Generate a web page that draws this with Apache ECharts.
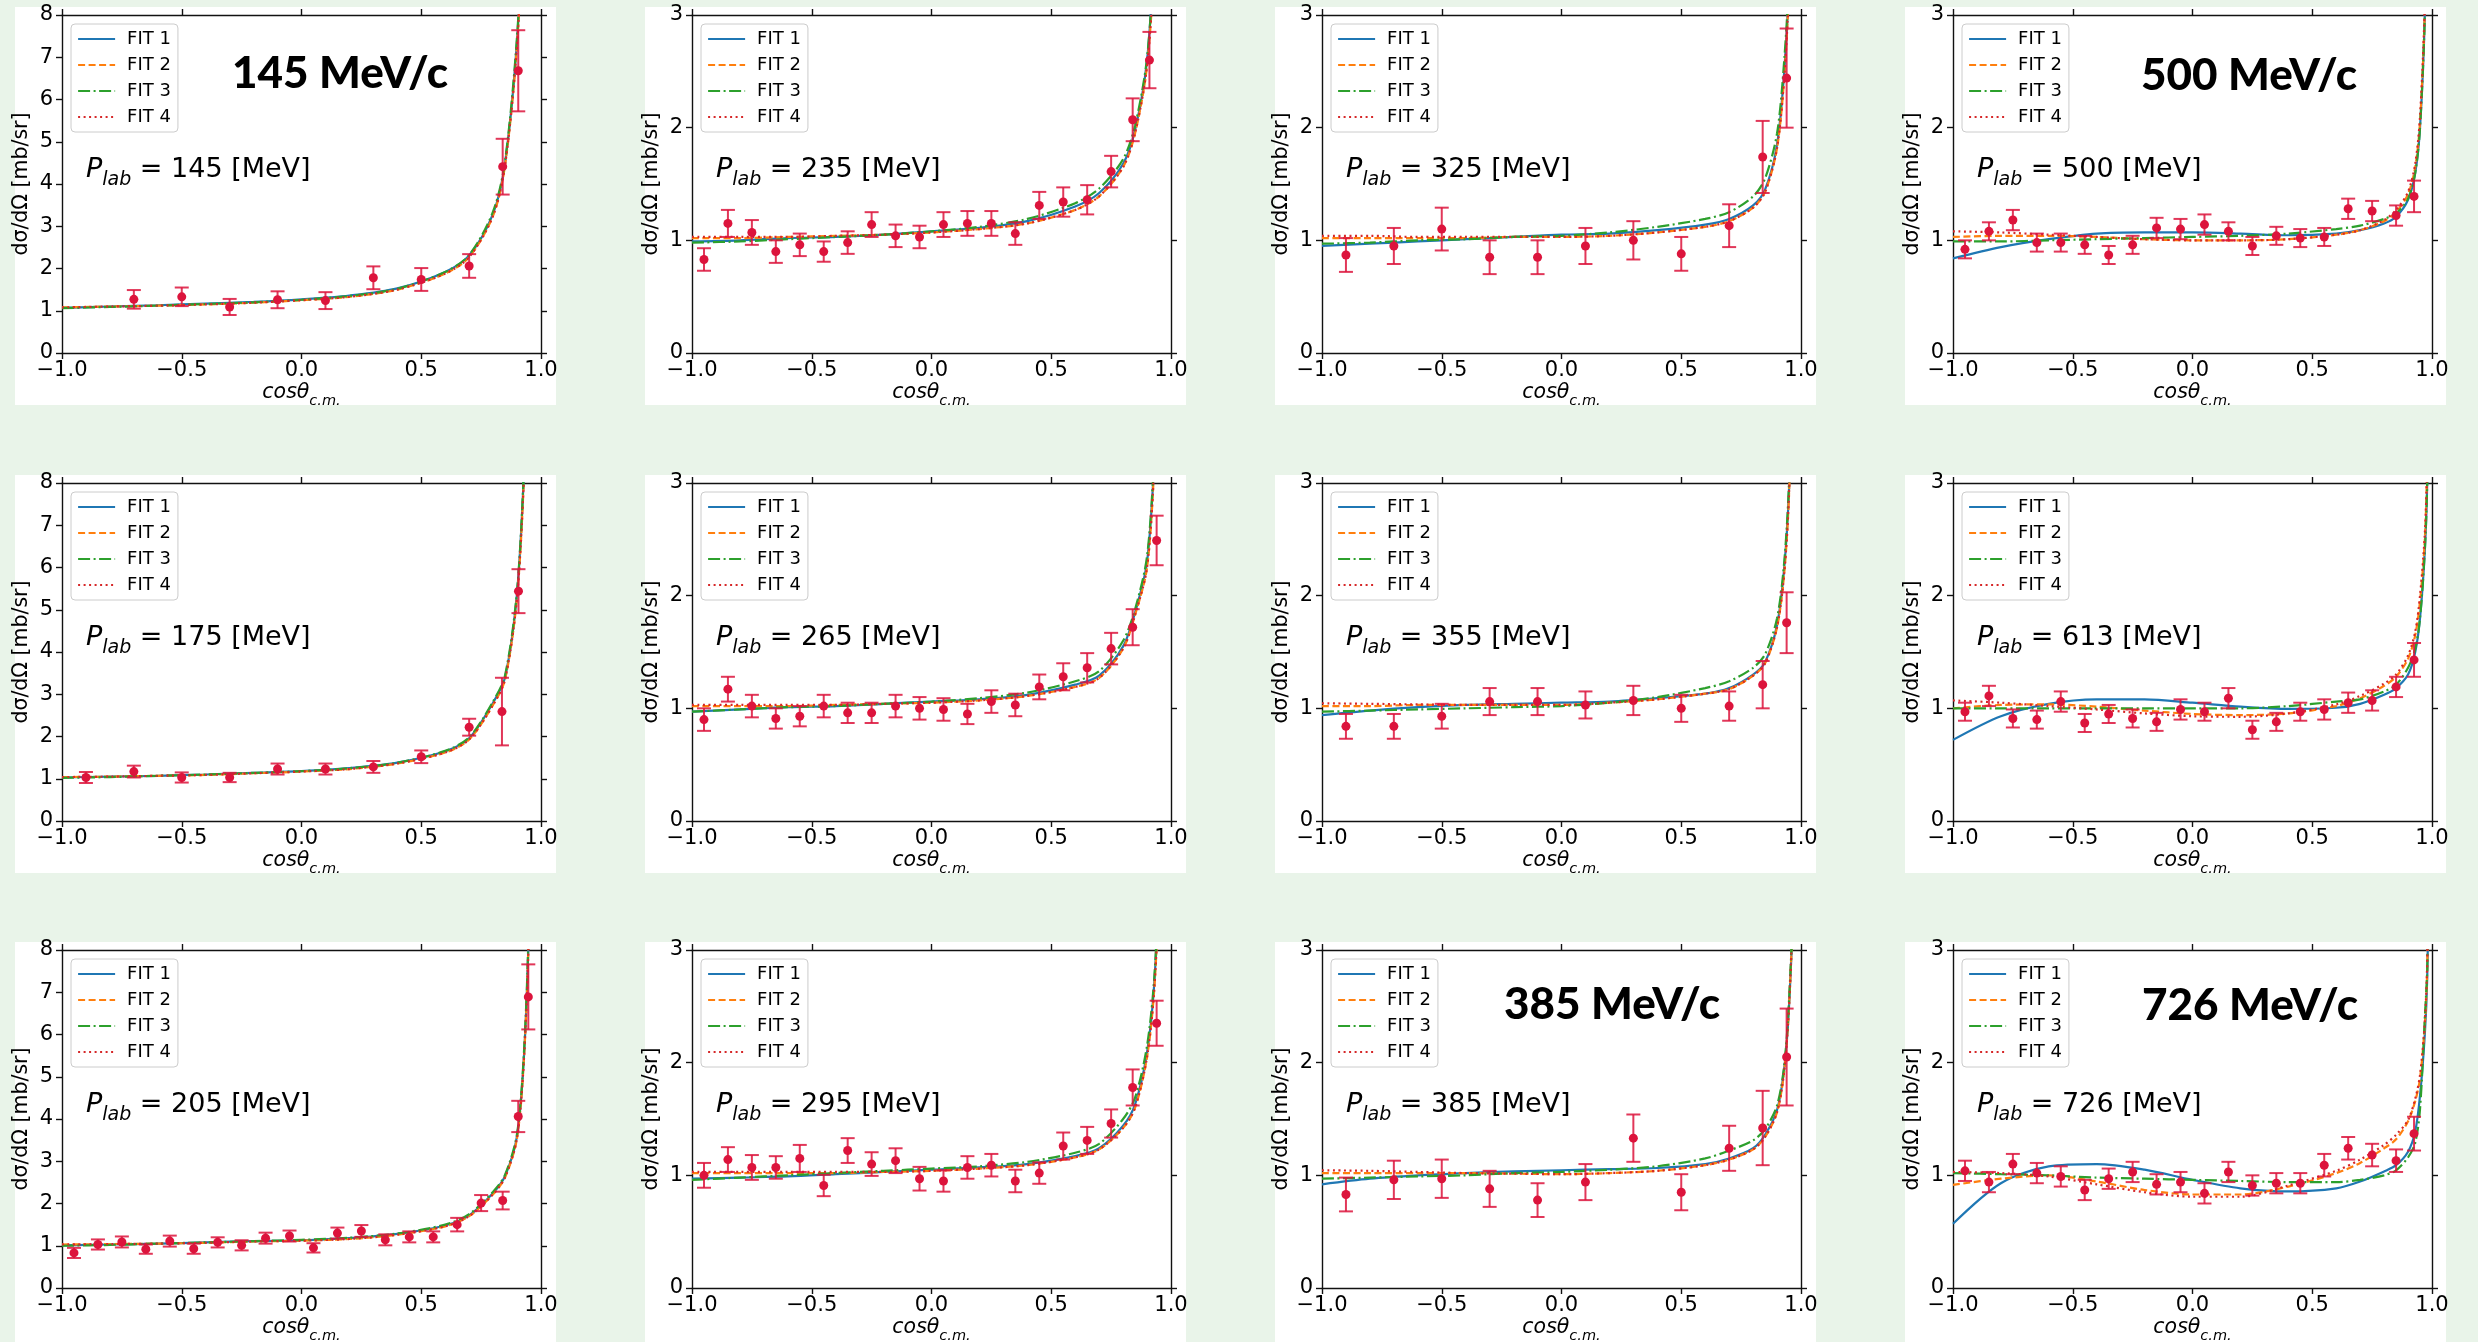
<!DOCTYPE html>
<html><head><meta charset="utf-8">
<script src="https://cdn.jsdelivr.net/npm/echarts/dist/echarts.min.js"></script>
<style>html,body{margin:0;padding:0;background:#e9f4e9;}#c{width:2478px;height:1342px;}</style>
</head><body><div id="c"></div>
<script>
// ---------- DATA ----------
const FIT_X = [-1,-0.8,-0.6,-0.4,-0.2,0,0.2,0.4,0.6,0.7,0.8,0.85,0.9,0.93,0.95,0.97,0.98,0.99];
const X20A = [-0.95,-0.85,-0.75,-0.65,-0.55,-0.45,-0.35,-0.25,-0.15,-0.05,0.05,0.15,0.25,0.35,0.45,0.55,0.65,0.75,0.84,0.91];
const X20B = [-0.95,-0.85,-0.75,-0.65,-0.55,-0.45,-0.35,-0.25,-0.15,-0.05,0.05,0.15,0.25,0.35,0.45,0.55,0.65,0.75,0.84,0.94];
const X20C = [-0.95,-0.85,-0.75,-0.65,-0.55,-0.45,-0.35,-0.25,-0.15,-0.05,0.05,0.15,0.25,0.35,0.45,0.55,0.65,0.75,0.85,0.925];
const X11 = [-0.9,-0.7,-0.5,-0.3,-0.1,0.1,0.3,0.5,0.7,0.84,0.94];

// 145 MeV/c
const P145_X = [-0.7,-0.5,-0.3,-0.1,0.1,0.3,0.5,0.7,0.84,0.905];
const P145_Y = [1.27,1.33,1.09,1.26,1.24,1.78,1.74,2.06,4.41,6.68];
const P145_E = [0.22,0.22,0.19,0.20,0.20,0.27,0.27,0.28,0.66,0.96];
const P145_F1 = [1.07,1.10,1.13,1.17,1.21,1.27,1.36,1.53,1.92,2.31,3.30,4.50,7.40,11,15,24,34,50];
const P145_F2 = [1.08,1.10,1.12,1.15,1.19,1.25,1.33,1.50,1.88,2.27,3.25,4.45,7.30,11,15,24,34,50];
const P145_F3 = [1.06,1.09,1.12,1.16,1.20,1.26,1.35,1.52,1.92,2.32,3.35,4.55,7.50,11,15,24,34,50];
const P145_F4 = [1.08,1.10,1.12,1.15,1.19,1.25,1.33,1.50,1.88,2.27,3.25,4.45,7.30,11,15,24,34,50];
// 175
const P175_X = [-0.9,-0.7,-0.5,-0.3,-0.1,0.1,0.3,0.5,0.7,0.837,0.906];
const P175_Y = [1.03,1.17,1.03,1.03,1.23,1.23,1.28,1.52,2.22,2.59,5.44];
const P175_E = [0.13,0.14,0.12,0.11,0.13,0.13,0.14,0.15,0.20,0.80,0.52];
const P175_F1 = [1.03,1.05,1.07,1.10,1.14,1.18,1.25,1.38,1.65,1.96,2.80,3.40,5.40,8.40,12,20,28,45];
const P175_F2 = [1.04,1.05,1.07,1.09,1.13,1.17,1.23,1.36,1.62,1.93,2.75,3.35,5.30,8.30,12,20,28,45];
const P175_F3 = [1.02,1.04,1.07,1.10,1.14,1.18,1.25,1.38,1.66,1.98,2.83,3.45,5.45,8.50,12,20,28,45];
const P175_F4 = [1.04,1.05,1.07,1.09,1.13,1.17,1.23,1.36,1.62,1.93,2.75,3.35,5.30,8.30,12,20,28,45];
// 205
const P205_X = [-0.95,-0.85,-0.75,-0.65,-0.55,-0.45,-0.35,-0.25,-0.15,-0.05,0.05,0.15,0.25,0.35,0.45,0.55,0.65,0.75,0.84,0.905,0.947];
const P205_Y = [0.83,1.03,1.09,0.92,1.11,0.93,1.08,1.01,1.18,1.23,0.95,1.30,1.35,1.14,1.21,1.21,1.50,2.01,2.07,4.06,6.89];
const P205_E = [0.12,0.12,0.13,0.11,0.13,0.12,0.12,0.12,0.13,0.13,0.11,0.13,0.14,0.13,0.13,0.13,0.16,0.19,0.21,0.37,0.77];
const P205_F1 = [1.01,1.03,1.05,1.08,1.11,1.13,1.18,1.28,1.48,1.72,2.25,2.65,3.60,5.60,8.70,15,22,35];
const P205_F2 = [1.03,1.04,1.05,1.07,1.10,1.12,1.16,1.26,1.46,1.70,2.22,2.62,3.55,5.55,8.60,15,22,35];
const P205_F3 = [1.00,1.02,1.05,1.08,1.11,1.14,1.19,1.29,1.50,1.75,2.28,2.68,3.65,5.70,8.80,15,22,35];
const P205_F4 = [1.03,1.04,1.05,1.07,1.10,1.12,1.16,1.26,1.46,1.70,2.22,2.62,3.55,5.55,8.60,15,22,35];
// 235
const P235_Y = [0.83,1.15,1.07,0.90,0.96,0.90,0.98,1.14,1.04,1.03,1.14,1.15,1.15,1.06,1.31,1.34,1.36,1.61,2.07,2.60];
const P235_E = [0.10,0.12,0.11,0.10,0.10,0.09,0.10,0.11,0.10,0.10,0.11,0.11,0.11,0.10,0.12,0.13,0.13,0.14,0.19,0.25];
const P235_F1 = [0.99,1.00,1.02,1.03,1.05,1.08,1.11,1.17,1.30,1.42,1.68,1.98,2.60,3.60,5.0,8.0,11,18];
const P235_F2 = [1.02,1.02,1.03,1.04,1.05,1.07,1.10,1.15,1.27,1.39,1.65,1.95,2.55,3.50,5.0,8.0,11,18];
const P235_F3 = [0.98,0.99,1.01,1.03,1.05,1.08,1.12,1.19,1.33,1.46,1.72,2.02,2.62,3.60,5.0,8.0,11,18];
const P235_F4 = [1.03,1.03,1.03,1.04,1.05,1.07,1.10,1.15,1.27,1.39,1.65,1.95,2.55,3.50,5.0,8.0,11,18];
// 265
const P265_Y = [0.90,1.17,1.02,0.91,0.93,1.02,0.96,0.96,1.02,1.00,0.99,0.95,1.06,1.03,1.19,1.28,1.36,1.53,1.72,2.49];
const P265_E = [0.10,0.11,0.10,0.09,0.09,0.10,0.09,0.09,0.10,0.10,0.10,0.09,0.10,0.10,0.11,0.12,0.13,0.14,0.16,0.22];
const P265_F1 = [0.97,0.99,1.01,1.02,1.04,1.06,1.08,1.12,1.21,1.29,1.55,1.85,2.30,3.20,4.4,7,10,16];
const P265_F2 = [1.02,1.02,1.02,1.03,1.04,1.05,1.07,1.11,1.19,1.27,1.53,1.83,2.25,3.15,4.3,7,10,16];
const P265_F3 = [0.97,0.99,1.01,1.02,1.04,1.06,1.09,1.14,1.24,1.33,1.60,1.88,2.35,3.25,4.4,7,10,16];
const P265_F4 = [1.03,1.03,1.03,1.03,1.04,1.05,1.07,1.11,1.19,1.27,1.53,1.83,2.25,3.15,4.3,7,10,16];
// 295
const P295_Y = [1.00,1.14,1.07,1.07,1.15,0.91,1.22,1.10,1.13,0.97,0.95,1.07,1.09,0.95,1.02,1.26,1.31,1.46,1.78,2.35];
const P295_E = [0.11,0.11,0.11,0.10,0.12,0.095,0.11,0.105,0.11,0.105,0.095,0.10,0.10,0.10,0.095,0.12,0.12,0.125,0.16,0.20];
const P295_F1 = [0.97,0.98,0.99,1.01,1.03,1.05,1.07,1.10,1.17,1.24,1.44,1.63,2.09,2.70,3.70,6,9,15];
const P295_F2 = [1.02,1.02,1.02,1.02,1.03,1.04,1.06,1.09,1.16,1.23,1.42,1.60,2.05,2.65,3.60,6,9,15];
const P295_F3 = [0.96,0.98,1.00,1.02,1.04,1.06,1.08,1.12,1.20,1.28,1.50,1.69,2.15,2.75,3.70,6,9,15];
const P295_F4 = [1.03,1.03,1.03,1.03,1.03,1.04,1.06,1.09,1.16,1.23,1.42,1.60,2.05,2.65,3.60,6,9,15];
// 325
const P325_Y = [0.87,0.95,1.10,0.85,0.85,0.95,1.00,0.88,1.13,1.74,2.44];
const P325_E = [0.15,0.16,0.19,0.15,0.15,0.16,0.17,0.15,0.19,0.32,0.44];
const P325_F1 = [0.95,0.97,0.99,1.01,1.03,1.05,1.06,1.09,1.14,1.19,1.31,1.45,1.85,2.50,3.30,5,7,12];
const P325_F2 = [1.02,1.02,1.02,1.02,1.03,1.03,1.04,1.07,1.12,1.17,1.29,1.43,1.82,2.45,3.25,5,7,12];
const P325_F3 = [0.97,0.98,1.00,1.01,1.03,1.04,1.07,1.12,1.19,1.25,1.39,1.55,1.95,2.60,3.35,5,7,12];
const P325_F4 = [1.04,1.04,1.03,1.03,1.03,1.03,1.04,1.07,1.12,1.17,1.29,1.43,1.82,2.45,3.25,5,7,12];
// 355
const P355_Y = [0.84,0.84,0.93,1.06,1.06,1.03,1.07,1.00,1.02,1.21,1.76];
const P355_E = [0.11,0.11,0.11,0.12,0.12,0.12,0.13,0.12,0.13,0.21,0.27];
const P355_F1 = [0.94,0.98,1.01,1.03,1.04,1.05,1.06,1.09,1.13,1.18,1.30,1.41,1.74,2.25,2.95,4.5,6.5,10];
const P355_F2 = [1.02,1.02,1.03,1.03,1.03,1.03,1.05,1.08,1.13,1.17,1.29,1.40,1.72,2.20,2.90,4.5,6.5,10];
const P355_F3 = [0.97,0.98,0.99,1.00,1.01,1.02,1.05,1.10,1.18,1.24,1.36,1.48,1.80,2.30,3.00,4.5,6.5,10];
const P355_F4 = [1.045,1.04,1.035,1.03,1.03,1.03,1.05,1.08,1.13,1.17,1.29,1.40,1.72,2.20,2.90,4.5,6.5,10];
// 385
const P385_Y = [0.83,0.96,0.97,0.88,0.78,0.94,1.33,0.85,1.24,1.42,2.05];
const P385_E = [0.15,0.17,0.17,0.16,0.15,0.16,0.21,0.16,0.20,0.33,0.43];
const P385_F1 = [0.92,0.97,1.00,1.02,1.035,1.045,1.055,1.065,1.10,1.15,1.24,1.36,1.58,1.95,2.50,3.60,5,8];
const P385_F2 = [1.02,1.02,1.02,1.02,1.015,1.01,1.02,1.04,1.09,1.14,1.23,1.34,1.56,1.93,2.50,3.60,5,8];
const P385_F3 = [0.97,0.98,0.99,1.00,1.02,1.03,1.05,1.08,1.15,1.22,1.31,1.41,1.62,1.98,2.55,3.60,5,8];
const P385_F4 = [1.045,1.04,1.03,1.02,1.015,1.01,1.02,1.04,1.09,1.14,1.23,1.34,1.56,1.93,2.50,3.60,5,8];
// 500
const P500_Y = [0.92,1.08,1.18,0.98,0.98,0.96,0.87,0.96,1.11,1.10,1.14,1.08,0.95,1.04,1.02,1.03,1.28,1.26,1.22,1.39];
const P500_E = [0.08,0.08,0.09,0.08,0.08,0.08,0.08,0.08,0.09,0.09,0.09,0.08,0.08,0.08,0.08,0.08,0.09,0.09,0.09,0.14];
const P500_F1 = [0.84,0.94,1.01,1.06,1.07,1.07,1.06,1.045,1.06,1.09,1.15,1.21,1.36,1.60,2.00,3.00,4.5,8];
const P500_F2 = [1.03,1.04,1.04,1.03,1.01,1.00,1.00,1.01,1.05,1.09,1.17,1.25,1.41,1.65,2.05,3.05,4.5,8];
const P500_F3 = [0.99,0.99,1.00,1.01,1.02,1.03,1.04,1.06,1.10,1.13,1.19,1.24,1.37,1.60,2.00,3.00,4.5,8];
const P500_F4 = [1.08,1.07,1.05,1.03,1.01,1.00,1.00,1.01,1.05,1.09,1.18,1.27,1.43,1.68,2.10,3.10,4.6,8];
// 613
const P613_Y = [0.97,1.11,0.91,0.90,1.06,0.87,0.95,0.91,0.88,0.99,0.97,1.09,0.81,0.88,0.97,0.99,1.05,1.07,1.19,1.43];
const P613_E = [0.08,0.09,0.08,0.08,0.09,0.08,0.08,0.08,0.08,0.09,0.08,0.09,0.08,0.08,0.08,0.09,0.09,0.09,0.09,0.15];
const P613_F1 = [0.72,0.93,1.04,1.08,1.08,1.05,1.015,0.995,1.005,1.04,1.12,1.18,1.30,1.50,1.80,2.40,3.00,4.5];
const P613_F2 = [1.00,1.03,1.035,1.015,0.98,0.95,0.94,0.955,1.02,1.09,1.20,1.28,1.44,1.65,1.95,2.50,3.20,5];
const P613_F3 = [1.00,1.00,1.00,1.00,1.00,1.00,1.00,1.02,1.06,1.08,1.15,1.21,1.36,1.53,1.80,2.40,3.00,4.5];
const P613_F4 = [1.07,1.05,1.02,0.99,0.955,0.93,0.925,0.955,1.035,1.11,1.22,1.30,1.47,1.68,2.00,2.55,3.20,5];
// 726
const P726_Y = [1.04,0.94,1.10,1.02,0.99,0.87,0.97,1.03,0.92,0.94,0.84,1.03,0.91,0.93,0.93,1.09,1.24,1.18,1.13,1.37];
const P726_E = [0.09,0.09,0.09,0.09,0.09,0.09,0.09,0.09,0.09,0.09,0.09,0.09,0.09,0.09,0.09,0.10,0.10,0.10,0.10,0.15];
const P726_F1 = [0.57,0.93,1.08,1.10,1.05,0.96,0.885,0.857,0.885,0.945,1.035,1.09,1.21,1.39,1.71,2.25,2.75,4];
const P726_F2 = [0.915,0.97,1.00,0.945,0.87,0.83,0.83,0.90,1.02,1.11,1.24,1.32,1.48,1.66,1.86,2.34,2.83,4.5];
const P726_F3 = [1.02,1.01,1.00,0.98,0.97,0.96,0.95,0.94,0.94,0.96,1.00,1.045,1.16,1.29,1.59,2.40,2.83,4.5];
const P726_F4 = [1.03,1.02,0.99,0.92,0.85,0.81,0.81,0.91,1.04,1.14,1.27,1.36,1.49,1.68,1.89,2.36,2.90,4.5];

const FIT_NAMES = ['FIT 1','FIT 2','FIT 3','FIT 4'];
const Y_TICKS_8 = 8, Y_TICKS_3 = 3;

// panels in reading order (row by row)
const PANELS = [
  {p:'145', ymax:Y_TICKS_8, x:P145_X, y:P145_Y, e:P145_E, f:[P145_F1,P145_F2,P145_F3,P145_F4], big:'145 MeV/c'},
  {p:'235', ymax:Y_TICKS_3, x:X20A, y:P235_Y, e:P235_E, f:[P235_F1,P235_F2,P235_F3,P235_F4]},
  {p:'325', ymax:Y_TICKS_3, x:X11, y:P325_Y, e:P325_E, f:[P325_F1,P325_F2,P325_F3,P325_F4]},
  {p:'500', ymax:Y_TICKS_3, x:X20C, y:P500_Y, e:P500_E, f:[P500_F1,P500_F2,P500_F3,P500_F4], big:'500 MeV/c'},
  {p:'175', ymax:Y_TICKS_8, x:P175_X, y:P175_Y, e:P175_E, f:[P175_F1,P175_F2,P175_F3,P175_F4]},
  {p:'265', ymax:Y_TICKS_3, x:X20B, y:P265_Y, e:P265_E, f:[P265_F1,P265_F2,P265_F3,P265_F4]},
  {p:'355', ymax:Y_TICKS_3, x:X11, y:P355_Y, e:P355_E, f:[P355_F1,P355_F2,P355_F3,P355_F4]},
  {p:'613', ymax:Y_TICKS_3, x:X20C, y:P613_Y, e:P613_E, f:[P613_F1,P613_F2,P613_F3,P613_F4]},
  {p:'205', ymax:Y_TICKS_8, x:P205_X, y:P205_Y, e:P205_E, f:[P205_F1,P205_F2,P205_F3,P205_F4]},
  {p:'295', ymax:Y_TICKS_3, x:X20B, y:P295_Y, e:P295_E, f:[P295_F1,P295_F2,P295_F3,P295_F4]},
  {p:'385', ymax:Y_TICKS_3, x:X11, y:P385_Y, e:P385_E, f:[P385_F1,P385_F2,P385_F3,P385_F4], big:'385 MeV/c'},
  {p:'726', ymax:Y_TICKS_3, x:X20C, y:P726_Y, e:P726_E, f:[P726_F1,P726_F2,P726_F3,P726_F4], big:'726 MeV/c'}
];

// ---------- LAYOUT / STYLE ----------
const COL_LEFT = [62, 692, 1322, 1953];
const ROW_TOP = [15, 483, 950];
const GW = 479, GH = 338;
const BOX_X = [15, 645, 1275, 1905], BOX_Y = [7, 475, 942], BOX_W = 541, BOX_H = [398, 398, 400];
const BIG_OFF = {'145 MeV/c':[170,33], '500 MeV/c':[188,35], '385 MeV/c':[182,29], '726 MeV/c':[189,30]};
const FIT_COLORS = ['#1f77b4','#ff7f0e','#2ca02c','#d62728'];
const FIT_DASH = ['solid',[7,3.5],[12,3.5,2,3.5],[2,3.5]];
const FONT = 'DejaVu Sans';
const AX = '#111';

function fmtX(v){ return (v < 0 ? '\u2212' : '') + Math.abs(v).toFixed(1); }

function renderErr(params, api){
  const x = api.value(0), y = api.value(1), e = api.value(2);
  const hi = api.coord([x, y + e]), lo = api.coord([x, y - e]);
  const w = 7;
  const st = {stroke:'rgba(220,20,60,0.85)', lineWidth:2};
  return {type:'group', children:[
    {type:'line', shape:{x1:hi[0], y1:hi[1], x2:lo[0], y2:lo[1]}, style:st},
    {type:'line', shape:{x1:hi[0]-w, y1:hi[1], x2:hi[0]+w, y2:hi[1]}, style:st},
    {type:'line', shape:{x1:lo[0]-w, y1:lo[1], x2:lo[0]+w, y2:lo[1]}, style:st}
  ]};
}

const grid = [], xAxis = [], yAxis = [], series = [], legend = [], title = [], graphic = [];

PANELS.forEach((P, i) => {
  const r = Math.floor(i / 4), c = i % 4;
  const L = COL_LEFT[c], T = ROW_TOP[r];
  graphic.push({type:'rect', left:BOX_X[c], top:BOX_Y[r], shape:{width:BOX_W, height:BOX_H[r]}, style:{fill:'#ffffff'}, z:-100, silent:true});
  grid.push({left:L, top:T, width:GW, height:GH, outerBoundsMode:'none', containLabel:false});
  const axLine = {show:true, onZero:false, lineStyle:{color:AX, width:1.4}};
  const axTick = {show:true, inside:false, length:6, lineStyle:{color:AX, width:1.4}};
  xAxis.push({gridIndex:i, type:'value', min:-1, max:1, interval:0.5, position:'bottom',
    axisLine:axLine, axisTick:axTick, splitLine:{show:false},
    axisLabel:{show:true, margin:7, fontSize:21, fontFamily:FONT, color:'#000', formatter:fmtX, hideOverlap:false},
    name:'{i|cos\u03b8}{s|c.m.}', nameLocation:'middle', nameGap:30,
    nameTextStyle:{color:'#000', rich:{
      i:{fontFamily:FONT, fontStyle:'italic', fontSize:20.5, lineHeight:23, verticalAlign:'top', color:'#000'},
      s:{fontFamily:FONT, fontStyle:'italic', fontSize:14.5, lineHeight:14, padding:[11,0,0,0], verticalAlign:'top', color:'#000'}}}
  });
  xAxis.push({gridIndex:i, type:'value', min:-1, max:1, interval:0.5, position:'top',
    axisLine:axLine, axisTick:axTick, splitLine:{show:false}, axisLabel:{show:false}});
  yAxis.push({gridIndex:i, type:'value', min:0, max:P.ymax, interval:1, position:'left',
    axisLine:axLine, axisTick:axTick, splitLine:{show:false},
    axisLabel:{show:true, margin:9, fontSize:21, fontFamily:FONT, color:'#000', hideOverlap:false},
    name:'d\u03c3/d\u03a9 [mb/sr]', nameLocation:'middle', nameGap:30,
    nameTextStyle:{fontFamily:FONT, fontSize:20.5, color:'#000'}});
  yAxis.push({gridIndex:i, type:'value', min:0, max:P.ymax, interval:1, position:'right',
    axisLine:axLine, axisTick:axTick, splitLine:{show:false}, axisLabel:{show:false}});

  P.f.forEach((arr, k) => {
    series.push({type:'line', name:FIT_NAMES[k], xAxisIndex:2*i, yAxisIndex:2*i,
      data:FIT_X.map((xv, j) => [xv, arr[j]]), symbol:'none', showSymbol:false,
      smooth:0.3, clip:true, silent:true, animation:false, z:2,
      lineStyle:{color:FIT_COLORS[k], width:2.2, type:FIT_DASH[k]}, itemStyle:{color:FIT_COLORS[k]}});
  });
  series.push({type:'custom', xAxisIndex:2*i, yAxisIndex:2*i, renderItem:renderErr,
    data:P.x.map((xv, j) => [xv, P.y[j], P.e[j]]), encode:{x:0, y:1}, z:4, silent:true, animation:false});
  series.push({type:'scatter', xAxisIndex:2*i, yAxisIndex:2*i, symbolSize:9,
    data:P.x.map((xv, j) => [xv, P.y[j]]), itemStyle:{color:'#dc143c', opacity:1}, z:5, silent:true, animation:false});

  legend.push({orient:'vertical', left:L + 9, top:T + 9, data:FIT_NAMES, selectedMode:false,
    itemWidth:37, itemHeight:14, itemGap:6, padding:[5,7,5,6],
    backgroundColor:'rgba(255,255,255,0.85)', borderColor:'#cccccc', borderWidth:1, borderRadius:4,
    itemStyle:{opacity:0}, lineStyle:{width:2.2},
    textStyle:{fontFamily:FONT, fontSize:18, color:'#000', lineHeight:20, padding:[0,0,0,7]}});

  title.push({text:'{p|P}{s|lab}{n| = ' + P.p + ' [MeV]}', left:L + 24, top:T + 141, padding:0,
    textStyle:{fontWeight:'normal', rich:{
      p:{fontFamily:FONT, fontStyle:'italic', fontWeight:'normal', fontSize:27, lineHeight:31, verticalAlign:'top', color:'#000'},
      s:{fontFamily:FONT, fontStyle:'italic', fontWeight:'normal', fontSize:19, lineHeight:19, padding:[15,0,0,0], verticalAlign:'top', color:'#000'},
      n:{fontFamily:FONT, fontWeight:'normal', fontSize:27, lineHeight:31, verticalAlign:'top', color:'#000'}}}});
  if (P.big) {
    const o = BIG_OFF[P.big];
    title.push({text:P.big, left:L + o[0], top:T + o[1], padding:0,
      textStyle:{fontFamily:'Lato', fontWeight:900, fontSize:44, lineHeight:52, color:'#000'}});
  }
});

const chart = echarts.init(document.getElementById('c'), null, {renderer:'canvas', devicePixelRatio:1});
chart.setOption({backgroundColor:'#e9f4e9', animation:false, grid, xAxis, yAxis, series, legend, title, graphic});
</script></body></html>
